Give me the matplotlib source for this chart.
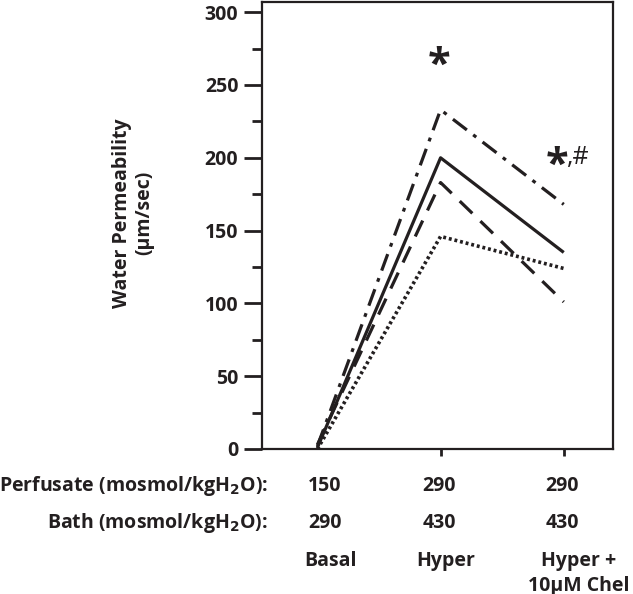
import matplotlib
matplotlib.use("Agg")
import matplotlib.pyplot as plt

plt.rcParams['font.family'] = ['Open Sans', 'DejaVu Sans']
plt.rcParams['font.weight'] = 'bold'
plt.rcParams['mathtext.default'] = 'regular'

conditions = ["Basal", "Hyper", "Hyper +\n10\u00b5M Chel"]
perfusate = ["150", "290", "290"]
bath = ["290", "430", "430"]
series_solid = [1, 200, 135]
series_dashdot = [2, 233, 168]
series_dashed = [3, 183, 101]
series_dotted = [0, 146, 124]

ink = "#231f20"
W, H = 633, 594
fig = plt.figure(figsize=(W / 100, H / 100), dpi=100)
ax = fig.add_axes([262 / W, 1 - 449 / H, 351 / W, 447 / H])

x = list(range(len(conditions)))
lw = 2.3
ax.plot(x, series_solid, color=ink, lw=lw, solid_capstyle='butt')
ax.plot(x, series_dashdot, color=ink, lw=lw, dashes=(5.5, 2.5, 1.2, 2.5), dash_capstyle='butt')
ax.plot(x, series_dashed, color=ink, lw=lw, dashes=(5.5, 3.5), dash_capstyle='butt')
ax.plot(x, series_dotted, color=ink, lw=2.6, dashes=(0.8, 0.8), dash_capstyle='butt')

ax.set_xlim(-0.45, 2.4)
ax.set_ylim(0, 307)
ax.set_yticks([0, 50, 100, 150, 200, 250, 300])
ax.set_yticks([25, 75, 125, 175, 225, 275], minor=True)
ax.set_xticks([1, 2])
ax.set_xticklabels([])
ax.tick_params(axis='y', which='major', direction='out', length=13, width=2, labelsize=14,
               colors=ink, pad=4)
ax.tick_params(axis='y', which='minor', direction='out', length=7, width=2, colors=ink)
ax.tick_params(axis='x', which='major', direction='out', length=5, width=2, colors=ink)
for lab in ax.get_yticklabels():
    lab.set_fontweight('bold')
for s in ax.spines.values():
    s.set_linewidth(1.6)
    s.set_color(ink)

# significance markers
ax.text(0.99, 263, "*", ha='center', va='center', fontsize=30, color=ink)
ax.text(1.945, 194, "*", ha='center', va='center', fontsize=30, color=ink)
fig.text(567 / W, 1 - 164 / H, ",#", ha='left', va='baseline', fontsize=18, color=ink,
         fontweight='normal')

fig.text(133 / W, 1 - 213 / H, "Water Permeability\n(\u00b5m/sec)", rotation=90,
         ha='center', va='center', fontsize=14, color=ink, fontweight='bold', linespacing=1.15)

fs = 14
fig.text(268 / W, 1 - 486 / H, "Perfusate (mosmol/kgH$_{\\mathsf{2}}$O):", ha='right', va='center',
         fontsize=fs, color=ink, fontweight='bold')
fig.text(268 / W, 1 - 523 / H, "Bath (mosmol/kgH$_{\\mathsf{2}}$O):", ha='right', va='center',
         fontsize=fs, color=ink, fontweight='bold')

label_x = [325, 439, 562]
cond_x = [331, 446, 579]
for i in range(len(conditions)):
    fig.text(label_x[i] / W, 1 - 486 / H, perfusate[i], ha='center', va='center',
             fontsize=fs, color=ink, fontweight='bold')
    fig.text(label_x[i] / W, 1 - 523 / H, bath[i], ha='center', va='center',
             fontsize=fs, color=ink, fontweight='bold')
    fig.text(cond_x[i] / W, 1 - 551 / H, conditions[i], ha='center', va='top',
             fontsize=fs, color=ink, fontweight='bold', linespacing=1.3)

fig.savefig("out.png", dpi=100)
